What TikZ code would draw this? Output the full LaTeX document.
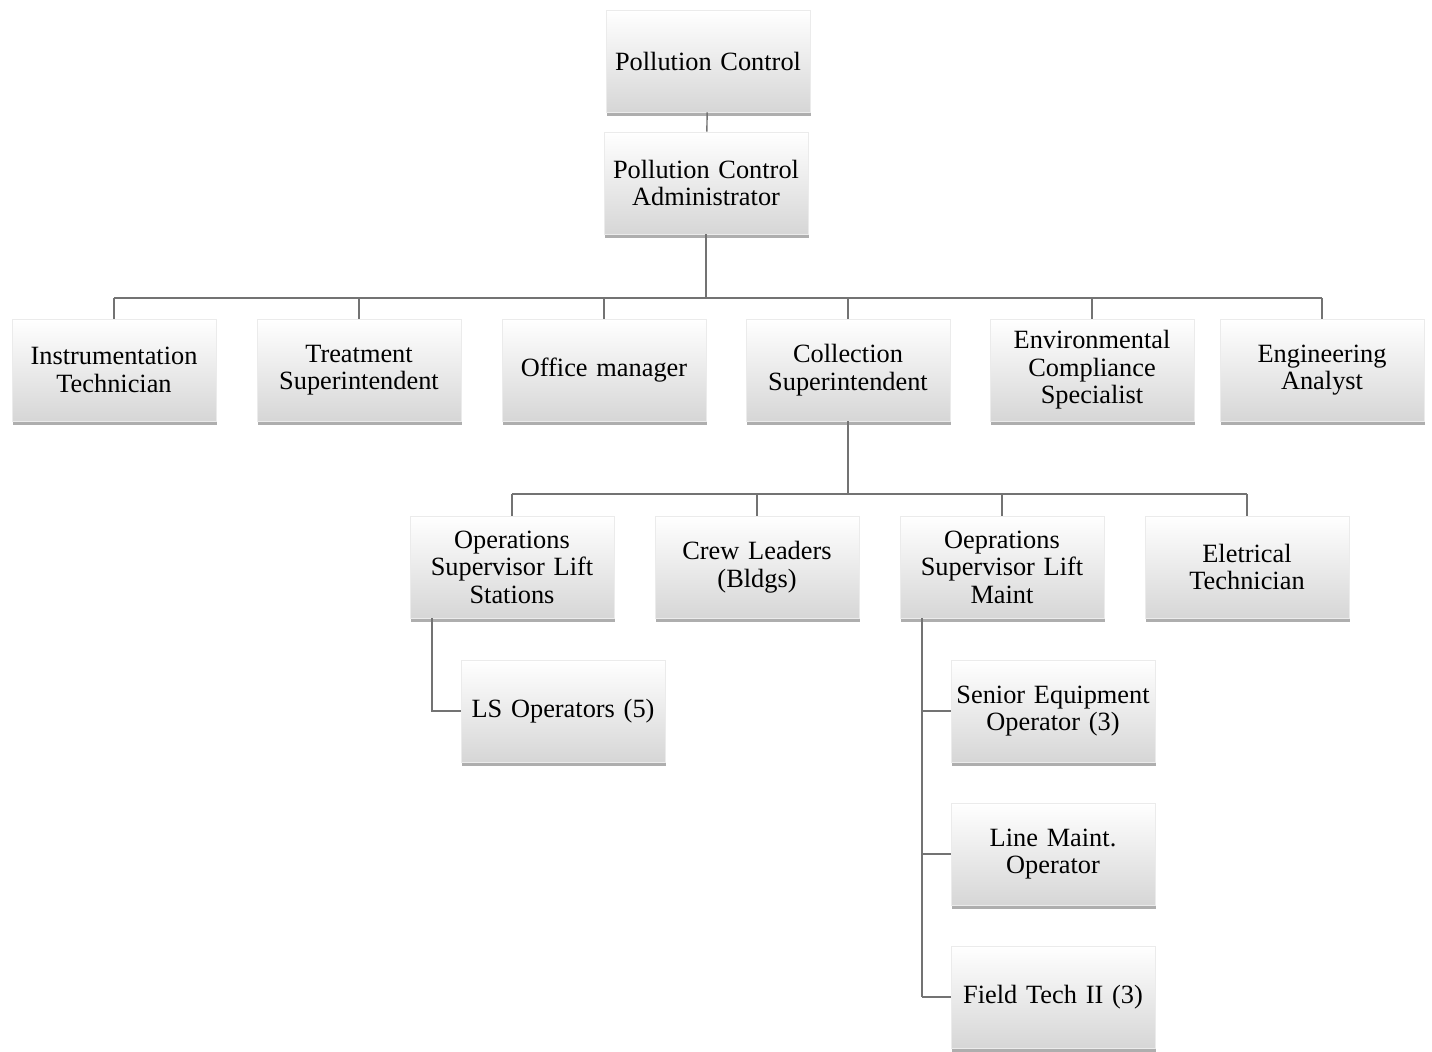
\documentclass[tikz,border=0pt]{standalone}
\usepackage{fontspec}
\setmainfont{Liberation Serif}
\usepackage{tikz}
\usetikzlibrary{
    positioning,
    shadows
}

\begin{document}
\begin{tikzpicture}[
    x=0.02cm,y=-0.02cm,
    font=\fontsize{15}{15.6}\selectfont,
    post/.style={rectangle,draw=black!8,top color=white,middle color=white,bottom color=black!16,
        text width=4.0cm,minimum width=4.08cm,minimum height=2.04cm,align=center,inner sep=0.04cm,
        drop shadow={shadow xshift=0.8pt,shadow yshift=-2.2pt,opacity=0.45,fill=black!70}},
    link/.style={draw=black!55,line width=0.8pt}
]
    \useasboundingbox (0,0) rectangle (1432,1051);

    % Top of the tree.
    \node[post] (pc)  at (708,61)  {Pollution Control};
    \node[post] (adm) at (706,183) {Pollution Control\\Administrator};

    % Second level.
    \node[post] (instr)  at (114,370)  {Instrumentation\\Technician};
    \node[post] (treat)  at (359,370)  {Treatment\\Superintendent};
    \node[post] (office) at (604,370)  {Office manager};
    \node[post] (coll)   at (848,370)  {Collection\\Superintendent};
    \node[post] (envir)  at (1092,370) {Environmental\\Compliance\\Specialist};
    \node[post] (engin)  at (1322,370) {Engineering\\Analyst};

    % Third level, under the collection superintendent.
    \node[post] (opsls) at (512,567)  {Operations\\Supervisor Lift\\Stations};
    \node[post] (crew)  at (757,567)  {Crew Leaders\\(Bldgs)};
    \node[post] (opsmt) at (1002,567) {Oeprations\\Supervisor Lift\\Maint};
    \node[post] (elec)  at (1247,567) {Eletrical\\Technician};

    % Staff under the two supervisors.
    \node[post] (lsops)  at (563,711)  {LS Operators (5)};
    \node[post] (senior) at (1053,711) {Senior Equipment\\Operator (3)};
    \node[post] (lineop) at (1053,854) {Line Maint.\\Operator};
    \node[post] (field)  at (1053,997) {Field Tech II (3)};

    % Connectors.
    \coordinate (busA) at (706,298);
    \coordinate (busB) at (848,494);
    \coordinate (lsjoint) at (432,711);
    \coordinate (mtjoint) at (922,997);

    \draw[link] (pc) -- (adm);
    \draw[link] (adm) -- (busA);
    \draw[link] (instr.north |- busA) -- (engin.north |- busA);
    \foreach \n in {instr,treat,office,coll,envir,engin}
        \draw[link] (\n) -- (\n.north |- busA);

    \draw[link] (coll) -- (busB);
    \draw[link] (opsls.north |- busB) -- (elec.north |- busB);
    \foreach \n in {opsls,crew,opsmt,elec}
        \draw[link] (\n) -- (\n.north |- busB);

    \draw[link] (lsjoint |- opsls.south) -- (lsjoint) -- (lsops);
    \draw[link] (mtjoint |- opsmt.south) -- (mtjoint);
    \foreach \n in {senior,lineop,field}
        \draw[link] (mtjoint |- \n.west) -- (\n);
\end{tikzpicture}
\end{document}
